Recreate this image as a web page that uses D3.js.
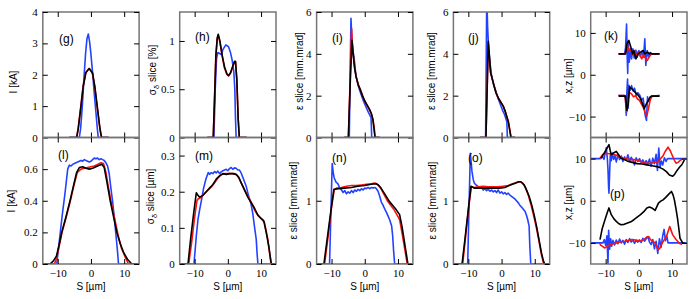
<!DOCTYPE html>
<html>
<head>
<meta charset="utf-8">
<script src="https://cdn.jsdelivr.net/npm/d3@7"></script>
<style>
  body { margin: 0; background: #fff; }
</style>
</head>
<body>
<svg id="chart" width="689" height="299"></svg>
<script>
// ---- data: [S (um), value] ----
var sDomain = [-14.5, 14.5];
var sTicks = [-10, 0, 10];

// (g) current, top
var gBlue = [[-6.5,0],[-3.5,0],[-3.1,0.3],[-2.6,1.0],[-2.1,1.9],[-1.6,2.7],[-1.2,3.15],[-0.8,3.3],[-0.4,3.05],[0,2.65],[0.5,2.05],[1,1.4],[1.5,0.8],[1.9,0.3],[2.2,0],[5.3,0]];
var gRed = [[-6.5,0],[-4.3,0],[-3.9,0.25],[-3.1,0.95],[-2.4,1.6],[-1.6,2.05],[-0.6,2.2],[0.4,2.07],[1.1,1.65],[1.9,0.95],[2.6,0.35],[3.1,0],[5.3,0]];
var gBlack = [[-6.5,0],[-4.3,0],[-3.8,0.3],[-3.0,1.0],[-2.3,1.65],[-1.5,2.08],[-0.5,2.2],[0.5,2.05],[1.2,1.6],[2.0,0.9],[2.7,0.3],[3.2,0],[5.3,0]];

// (h) energy spread
var hBlue = [[-6.2,0],[-4.2,0],[-3.8,0.5],[-3.4,0.82],[-3.0,0.88],[-2.5,0.87],[-2.0,0.86],[-1.5,0.91],[-0.6,0.96],[0.2,0.94],[0.8,0.88],[1.3,0.8],[1.8,0.68],[2.1,0.5],[2.3,0.2],[2.5,0],[5.7,0]];
var hRed = [[-6.2,0],[-4.4,0],[-4.0,0.42],[-3.6,0.86],[-3.2,1.02],[-2.9,1.06],[-2.4,0.99],[-1.7,0.84],[-1,0.72],[-0.3,0.655],[0.2,0.64],[0.8,0.665],[1.5,0.735],[2.0,0.78],[2.3,0.785],[2.7,0.6],[3.1,0.2],[3.45,0],[5.7,0]];
var hBlack = [[-6.2,0],[-4.4,0],[-4.0,0.4],[-3.6,0.85],[-3.2,1.03],[-2.9,1.07],[-2.4,1.0],[-1.7,0.85],[-1,0.73],[-0.3,0.66],[0.2,0.64],[0.8,0.67],[1.5,0.74],[2.0,0.79],[2.3,0.79],[2.7,0.6],[3.1,0.2],[3.45,0],[5.7,0]];

// (i) emittance
var iBlue = [[-6.2,0],[-4.65,0],[-4.4,3.0],[-4.15,5.7],[-3.9,4.8],[-3.5,4.1],[-3.2,3.8],[-2.7,3.0],[-2.0,2.5],[-1.2,2.1],[-0.4,1.75],[0.4,1.45],[1.1,1.2],[1.6,1.05],[1.9,0.95],[2.1,0],[4.5,0]];
var iRed = [[-6.2,0],[-4.9,0],[-4.4,2.8],[-3.95,5.2],[-3.7,4.3],[-3.2,3.6],[-2.6,2.9],[-1.9,2.5],[-1.2,2.25],[-0.4,1.9],[0.4,1.6],[1.2,1.4],[1.9,1.15],[2.5,0.85],[2.9,0.4],[3.1,0],[4.5,0]];
var iBlack = [[-6.2,0],[-4.95,0],[-4.4,2.5],[-3.85,4.65],[-3.5,4.0],[-3.1,3.35],[-2.6,2.9],[-2,2.55],[-1.4,2.3],[-0.6,1.95],[0.1,1.72],[0.9,1.5],[1.6,1.3],[2.1,1.1],[2.4,0.9],[2.8,0.4],[3.1,0],[4.5,0]];

// (j) emittance
var jBlue = [[-6.5,0],[-4.8,0],[-4.6,4],[-4.45,6.8],[-4.2,5.3],[-3.9,4.3],[-3.5,3.6],[-3,2.95],[-2.3,2.5],[-1.6,2.15],[-1,1.85],[-0.3,1.55],[0.3,1.3],[0.9,1.1],[1.4,0.85],[1.6,0.75],[1.75,0],[4.0,0]];
var jRed = [[-6.5,0],[-4.7,0],[-4.3,2.5],[-4.0,4.5],[-3.7,3.8],[-3.3,3.1],[-2.9,2.85],[-2.3,2.5],[-1.6,2.1],[-0.9,1.85],[-0.2,1.7],[0.5,1.5],[1.1,1.25],[1.7,0.95],[2.1,0.75],[2.5,0.35],[2.85,0],[4.05,0]];
var jBlack = [[-6.5,0],[-4.7,0],[-4.3,2.6],[-4.0,4.6],[-3.6,3.8],[-3.3,3.1],[-2.95,2.9],[-2.4,2.55],[-1.7,2.15],[-1,1.9],[-0.3,1.7],[0.5,1.5],[1.1,1.25],[1.6,0.98],[2.0,0.77],[2.4,0.4],[2.85,0],[4.05,0]];

// (k) centroids x (upper) and z (lower)
var kBlueX = [[-6.2,5],[-4.3,5],[-4.0,6.5],[-3.7,12.1],[-3.5,4],[-3.35,0.3],[-3.15,8],[-2.9,3],[-2.5,6.2],[-2.2,3.8],[-1.8,6.2],[-1.4,4.0],[-0.9,5.9],[-0.5,4.2],[0,5.8],[0.5,4.4],[1.0,5.6],[1.4,4.2],[1.8,8.6],[2.1,2.2],[2.5,5.8],[2.9,4.4],[3.4,5.3],[3.9,5],[6.2,5]];
var kBlueZ = [[-6.2,-5],[-4.3,-5],[-4.0,-6],[-3.8,-9.7],[-3.6,-4],[-3.4,-1],[-3.2,-8],[-3.0,-2.5],[-2.6,-3.7],[-2.2,-2.6],[-1.7,-3.9],[-1.3,-3.2],[-0.8,-4.9],[-0.3,-4.3],[0.3,-4.9],[0.8,-6.1],[1.3,-5.6],[1.6,-7.5],[1.9,-9.7],[2.3,-10.9],[2.6,-5.3],[3.0,-6.4],[3.5,-5.5],[3.9,-5.1],[6.2,-5]];
var kRedX = [[-6.2,5],[-4.2,5],[-3.8,5.8],[-3.5,7.2],[-3.2,6.4],[-2.8,5.6],[-2.3,6.1],[-1.8,4.8],[-1.3,5.6],[-0.8,4.5],[-0.3,5.4],[0.3,4.6],[0.9,3.8],[1.4,4.9],[1.9,4.1],[2.5,3.4],[3.1,4.2],[3.6,4.8],[4,5],[6.2,5]];
var kRedZ = [[-6.2,-5],[-4.2,-5],[-3.9,-7],[-3.6,-8.8],[-3.3,-6.1],[-2.8,-4.2],[-2.2,-4.6],[-1.6,-5.3],[-1,-5.0],[-0.4,-5.8],[0.2,-6.1],[0.9,-7.2],[1.4,-7.9],[2.0,-9.3],[2.4,-9.8],[2.9,-8.1],[3.4,-6.1],[3.9,-5.2],[6.2,-5]];
var kBlackX = [[-6.0,5],[-4.0,5],[-3.6,7.4],[-3.0,8.2],[-2.4,6.6],[-1.9,5],[-1.5,5.8],[-0.9,3.8],[-0.2,5],[0.5,5.4],[1.3,5.8],[1.8,5],[2.6,5.4],[3.2,5],[3.6,5.2],[3.9,5],[6.2,5]];
var kBlackZ = [[-6.0,-5.1],[-4.0,-5.1],[-3.6,-8.5],[-3.2,-6.9],[-2.8,-2.9],[-2.2,-3.3],[-1.7,-3.7],[-0.9,-4.4],[-0.2,-4.9],[0.5,-5.7],[1.1,-6.9],[1.6,-8.1],[2.3,-6.9],[2.9,-6.1],[3.4,-5.3],[3.9,-5.1],[6.2,-5.1]];

// (l) current, bottom
var lBlue = [[-14.5,0],[-10.3,0],[-9.5,0.15],[-8.7,0.3],[-7.8,0.45],[-7,0.6],[-6.5,0.625],[-6,0.62],[-5.5,0.63],[-5,0.635],[-4.5,0.64],[-4,0.645],[-3.5,0.65],[-3,0.655],[-2.5,0.65],[-2,0.66],[-1.5,0.655],[-1,0.65],[-0.5,0.645],[0,0.65],[0.5,0.66],[1,0.67],[1.5,0.665],[2,0.67],[2.5,0.66],[3,0.665],[3.5,0.66],[4,0.655],[4.5,0.64],[5,0.62],[5.5,0.57],[6,0.48],[6.5,0.4],[7,0.3],[7.5,0.19],[8,0.08],[8.3,0],[14.5,0]];
var lRed = [[-14.5,0],[-11,0],[-10.3,0.04],[-9.5,0.12],[-8.7,0.2],[-7.4,0.3],[-6.2,0.4],[-5.1,0.5],[-4.1,0.58],[-3,0.6],[-2,0.605],[-1,0.61],[0,0.615],[1,0.62],[2,0.63],[3,0.64],[3.8,0.635],[4.5,0.58],[5.3,0.48],[6.2,0.38],[7.2,0.28],[8.2,0.18],[9.2,0.1],[10.2,0.05],[11.3,0],[14.5,0]];
var lBlack = [[-14.5,0],[-12.3,0],[-11.3,0.02],[-10.4,0.05],[-9.6,0.12],[-8.8,0.2],[-7.5,0.3],[-6.3,0.4],[-5.2,0.5],[-4.3,0.58],[-3.5,0.61],[-2.5,0.615],[-1.5,0.605],[-0.5,0.6],[0.5,0.605],[1.5,0.615],[2.5,0.625],[3.3,0.63],[4,0.61],[4.8,0.52],[5.8,0.4],[6.8,0.3],[7.8,0.2],[8.8,0.13],[9.9,0.07],[11,0.03],[12.3,0],[14.5,0]];

// (m) energy spread, bottom
var mBlue = [[-14.5,0],[-10.2,0],[-9.5,0.077],[-9.0,0.123],[-8.5,0.15],[-7.9,0.179],[-7.3,0.21],[-6.6,0.235],[-5.9,0.253],[-5.5,0.248],[-5,0.253],[-4.5,0.25],[-4,0.256],[-3.5,0.252],[-3,0.257],[-2.5,0.25],[-2,0.255],[-1.5,0.258],[-1,0.26],[-0.5,0.262],[0,0.258],[0.5,0.264],[1,0.267],[1.5,0.262],[2,0.266],[2.5,0.265],[3,0.26],[3.5,0.26],[4,0.252],[4.7,0.235],[5.5,0.216],[6.2,0.19],[7,0.165],[7.5,0.14],[8,0.105],[8.55,0.068],[8.8,0.03],[9.05,0],[14.5,0]];
var mRed = [[-14.5,0],[-11.8,0],[-10.9,0.06],[-10,0.13],[-9.3,0.175],[-9,0.18],[-8.5,0.182],[-8,0.185],[-7.5,0.19],[-7,0.195],[-6.5,0.2],[-6,0.205],[-5,0.213],[-4,0.225],[-3,0.238],[-2,0.247],[-1,0.25],[0,0.25],[1,0.25],[2,0.25],[2.8,0.245],[3.5,0.234],[4.5,0.215],[5.5,0.197],[6.3,0.183],[7,0.172],[8,0.15],[9,0.135],[10,0.126],[11,0.115],[12,0.07],[13,0],[14.5,0]];
var mBlack = [[-14.5,0],[-12,0],[-11.2,0.07],[-10.3,0.14],[-9.5,0.197],[-9,0.19],[-8.5,0.185],[-7.5,0.19],[-6.5,0.2],[-5.5,0.21],[-4.5,0.22],[-3.5,0.235],[-2.5,0.244],[-1.5,0.25],[-0.5,0.248],[0.5,0.25],[1.5,0.25],[2.5,0.248],[3.3,0.24],[4,0.225],[5,0.205],[6,0.185],[7,0.17],[8,0.155],[9,0.136],[10,0.126],[10.8,0.12],[11.5,0.09],[12.3,0.05],[13.1,0],[14.5,0]];

// (n) emittance, bottom
var nBlue = [[-14.5,0],[-10.6,0],[-10.1,1.0],[-9.8,1.59],[-9.5,1.45],[-9.2,1.36],[-8.6,1.29],[-8.1,1.27],[-7.5,1.2],[-7,1.17],[-6.5,1.13],[-6,1.16],[-5.5,1.11],[-5,1.14],[-4.5,1.12],[-4,1.16],[-3.5,1.13],[-3,1.17],[-2.5,1.15],[-2,1.18],[-1.5,1.16],[-1,1.19],[-0.5,1.17],[0,1.2],[0.5,1.19],[1,1.21],[1.5,1.19],[2,1.21],[2.5,1.2],[3,1.21],[3.5,1.19],[4,1.15],[4.5,1.07],[5,0.98],[5.5,0.93],[6,0.87],[6.5,0.82],[7,0.76],[7.5,0.7],[8.1,0.6],[8.4,0.45],[8.7,0.2],[9,0],[14.5,0]];
var nRed = [[-14.5,0],[-12.1,0],[-11,0.45],[-10,0.9],[-9.2,1.17],[-8.5,1.2],[-7,1.21],[-5.5,1.23],[-4,1.24],[-2.5,1.24],[-1,1.25],[0.5,1.26],[2,1.27],[3,1.28],[3.8,1.26],[4.8,1.2],[5.8,1.1],[6.8,1.0],[7.8,0.93],[8.8,0.86],[9.8,0.77],[10.5,0.7],[11.2,0.5],[12,0.25],[12.8,0],[14.5,0]];
var nBlack = [[-14.5,0],[-12.3,0],[-11.3,0.4],[-10.3,0.8],[-9.3,1.18],[-8,1.19],[-6.1,1.2],[-4,1.21],[-2.1,1.23],[0,1.24],[1.9,1.26],[3.4,1.27],[4.1,1.25],[4.9,1.2],[6.1,1.1],[7.4,0.99],[8.5,0.92],[9.45,0.86],[10.5,0.78],[11.2,0.6],[11.8,0.4],[12.4,0.2],[13,0],[14.5,0]];

// (o) emittance, bottom
var oBlue = [[-14.5,0],[-10.2,0],[-9.8,0.9],[-9.4,1.75],[-9.1,1.58],[-8.9,1.46],[-8.5,1.33],[-8.2,1.28],[-7.7,1.25],[-7.2,1.23],[-6.5,1.2],[-6,1.21],[-5.5,1.17],[-5,1.19],[-4.5,1.16],[-4,1.18],[-3.5,1.15],[-3,1.17],[-2.5,1.14],[-2,1.16],[-1.5,1.13],[-1,1.17],[-0.5,1.12],[0,1.14],[0.5,1.11],[1,1.13],[1.5,1.1],[2,1.12],[2.5,1.09],[3,1.07],[3.5,1.05],[4,1.03],[4.5,1.0],[5,0.97],[5.5,0.93],[6,0.9],[6.5,0.87],[7.1,0.83],[7.5,0.77],[7.8,0.72],[8.3,0.6],[8.5,0.3],[8.8,0],[14.5,0]];
var oRed = [[-14.5,0],[-11.7,0],[-10.8,0.45],[-9.9,0.9],[-9.1,1.22],[-8.2,1.21],[-7,1.22],[-5.5,1.23],[-4,1.22],[-2.5,1.22],[-1,1.22],[0.5,1.23],[2,1.24],[3.3,1.27],[4.5,1.29],[5.6,1.3],[6.4,1.28],[7.2,1.21],[8,1.1],[8.8,0.95],[9.6,0.78],[10.4,0.6],[11.2,0.38],[12,0.15],[12.7,0],[14.5,0]];
var oBlack = [[-14.5,0],[-11.9,0],[-11,0.4],[-10.1,0.82],[-9.2,1.23],[-8.2,1.2],[-6.5,1.2],[-4.7,1.2],[-2.7,1.2],[-0.7,1.2],[1,1.21],[2.3,1.24],[3.3,1.26],[4.3,1.28],[5.2,1.3],[5.8,1.3],[6.8,1.25],[7.6,1.16],[8.3,1.07],[9.1,0.93],[9.8,0.78],[10.6,0.58],[11.3,0.38],[12,0.18],[12.6,0.05],[13,0],[14.5,0]];

// (p) centroids, bottom
var pBlueX = [[-14.5,10],[-11.5,10],[-11.0,10.5],[-10.5,9.8],[-10.1,11.4],[-9.8,12.6],[-9.5,10.1],[-9.3,7.5],[-9.1,3],[-9.0,1.8],[-8.8,6.5],[-8.6,10.8],[-8.3,9.5],[-8.0,11.3],[-7.6,9.8],[-7.2,10.7],[-6.8,9.2],[-6.3,10.9],[-5.8,9.8],[-5.3,10.6],[-4.8,9.3],[-4.3,10.4],[-3.8,9.6],[-3.3,10.9],[-2.8,9.4],[-2.3,10.3],[-1.8,9.7],[-1.3,8.5],[-0.8,10.2],[-0.3,9.3],[0.2,10],[0.7,9.1],[1.2,9.7],[1.7,8.8],[2.2,9.5],[2.7,8.7],[3.2,9.9],[3.7,8.2],[4.2,10.1],[4.7,8.8],[5.2,11],[5.6,7.2],[6,12.5],[6.4,8.0],[6.8,9.4],[7.2,8.5],[7.7,10.2],[8.2,9.3],[8.6,10],[14.5,10]];
var pBlueZ = [[-14.5,-10],[-10.8,-10],[-10.4,-9.2],[-10,-10.6],[-9.6,-8.3],[-9.3,-15],[-9.1,-7],[-8.8,-11.5],[-8.5,-9],[-8.2,-10.8],[-7.8,-9.4],[-7.3,-10.5],[-6.8,-9.3],[-6.3,-10.2],[-5.8,-9.1],[-5.3,-10],[-4.8,-9.4],[-4.3,-10.3],[-3.8,-9.2],[-3.3,-9.9],[-2.8,-9.0],[-2.3,-9.8],[-1.8,-9.3],[-1.3,-10.1],[-0.8,-9.4],[-0.3,-9.8],[0.2,-9.3],[0.7,-9.9],[1.2,-8.9],[1.7,-9.6],[2.2,-9.0],[2.7,-8.5],[3.2,-9.8],[3.7,-10.4],[4.2,-9.2],[4.7,-11.4],[5.2,-9.6],[5.7,-12.5],[6.2,-9.0],[6.7,-11.0],[7.2,-8.2],[7.6,-6.8],[8.0,-9.5],[8.4,-8.3],[8.8,-10],[14.5,-10]];
var pRedX = [[-11.7,10.1],[-10.8,11.0],[-10.2,11.3],[-9.5,11.2],[-8.3,11.1],[-7.3,10.9],[-6.4,10.7],[-5.5,10.4],[-4.5,10.0],[-3.4,9.9],[-2.4,9.7],[-1.5,9.8],[-0.5,9.6],[0.5,9.3],[1.5,9.0],[2.4,8.9],[3.4,8.9],[4.5,9.0],[5.85,9.3],[6.6,10],[7.3,10.7],[8.0,11.8],[8.8,12.7],[9.5,11.8],[10.2,10.5],[10.7,9.6],[11.2,8.9],[11.8,9.1],[12.5,9.6],[13.2,10.0]];
var pRedZ = [[-11.9,-10],[-11.4,-10.6],[-10.2,-11.2],[-9.5,-10.8],[-8.8,-10.4],[-7.5,-10.2],[-6.8,-10],[-5.8,-9.8],[-4.3,-9.6],[-3.0,-9.4],[-2.0,-9.2],[-0.5,-9.4],[0.5,-9.6],[1.5,-9.2],[2.4,-8.6],[3.0,-8.5],[3.5,-9.2],[4.9,-10],[5.85,-11.6],[6.3,-11.3],[6.8,-10.4],[7.5,-9.4],[8.3,-8.5],[8.8,-7.3],[9.3,-6.1],[9.8,-7.2],[10.2,-8.1],[11.2,-9.2],[12.4,-10.2],[13.0,-10.3]];
var pBlackX = [[-11.4,10.1],[-10.5,11.2],[-9.6,12.4],[-9.0,13.3],[-8.6,11.8],[-8.3,10.9],[-7.5,11.4],[-6.8,11.7],[-6.1,10.9],[-5.4,10.1],[-4.4,9.8],[-3.4,9.4],[-2,9.1],[-0.5,8.8],[1,8.7],[2.4,8.5],[4,8.3],[5.4,8.1],[6.5,7.8],[7.3,7.5],[8.3,6.9],[9.2,6.1],[10.2,5.8],[10.8,6.3],[11.5,7.2],[12.3,8.0],[13.0,8.6],[13.7,9.7]];
var pBlackZ = [[-11.7,-9.2],[-11.0,-6.5],[-10.2,-4.5],[-9.5,-2.8],[-9.0,-1.7],[-8.3,-3.3],[-7.5,-4.3],[-6.8,-4.9],[-6.1,-5.4],[-5.4,-5.7],[-4.4,-5.6],[-3.4,-5.3],[-2.4,-5.0],[-1.5,-4.5],[-0.5,-3.9],[0.5,-3.3],[1.5,-2.6],[2.4,-1.7],[3.2,-1.5],[3.9,-1.7],[4.9,-2.3],[5.9,-0.55],[6.6,-0.1],[7.3,0.2],[8.1,0.8],[8.8,1.4],[9.8,2.2],[10.3,1.4],[10.7,0.2],[11.2,-2],[11.7,-4.5],[12.1,-7],[12.4,-8.9],[13.2,-10],[13.7,-10.1]];

// ---- layout ----
var svg = d3.select("#chart");
var panelW = 96.3;
var colLeft = [42.8, 179.7, 316.6, 453.4, 590.7];
var rowY = [[12, 137.5], [137.5, 264]];
var blue = "#2342ff", red = "#ff1010", black = "#000";
var serif = "Liberation Serif";
var sans = "Liberation Sans";

var fmt = function (d) { return d < 0 ? "\u2212" + Math.abs(d) : String(d); };

var panels = [
  {col:0,row:0,yDom:[0,4],yTicks:[0,1,2,3,4],lab:["I [kA]"],lx:17,ly:82,tag:"(g)",tx:59,ty:42.5,
   series:[[gBlue,blue],[gRed,red],[gBlack,black]]},
  {col:1,row:0,yDom:[0,1.3],yTicks:[0,0.5,1],lab:["σ","δ"," slice [%]"],lx:156,ly:70,tag:"(h)",tx:195,ty:41,
   series:[[hBlue,blue],[hRed,red],[hBlack,black]]},
  {col:2,row:0,yDom:[0,6],yTicks:[0,2,4,6],lab:["ε slice [mm.mrad]"],lx:302.5,ly:71,tag:"(i)",tx:332,ty:42,
   series:[[iBlue,blue],[iRed,red],[iBlack,black]]},
  {col:3,row:0,yDom:[0,6],yTicks:[0,2,4,6],lab:["ε slice [mm.mrad]"],lx:435,ly:71,tag:"(j)",tx:468,ty:42,
   series:[[jBlue,blue],[jRed,red],[jBlack,black]]},
  {col:4,row:0,yDom:[-15,15],yTicks:[-10,0,10],lab:["x,z [µm]"],lx:571.5,ly:76,tag:"(k)",tx:604,ty:40,
   series:[[kBlueX,blue],[kBlueZ,blue],[kRedX,red],[kRedZ,red],[kBlackX,black],[kBlackZ,black]]},
  {col:0,row:1,yDom:[0,0.8],yTicks:[0,0.2,0.4,0.6],lab:["I [kA]"],lx:15,ly:201,tag:"(l)",tx:58,ty:159,
   series:[[lBlue,blue],[lRed,red],[lBlack,black]]},
  {col:1,row:1,yDom:[0,0.35],yTicks:[0,0.1,0.2,0.3],lab:["σ","δ"," slice [µm]"],lx:154,ly:196.5,tag:"(m)",tx:195,ty:160,
   series:[[mBlue,blue],[mRed,red],[mBlack,black]]},
  {col:2,row:1,yDom:[0,2],yTicks:[0,1],lab:["ε slice [mm.mrad]"],lx:297,ly:200.5,tag:"(n)",tx:332,ty:162,
   series:[[nBlue,blue],[nRed,red],[nBlack,black]]},
  {col:3,row:1,yDom:[0,2],yTicks:[0,1],lab:["ε slice [mm.mrad]"],lx:435.5,ly:200.5,tag:"(o)",tx:468,ty:162,
   series:[[oBlue,blue],[oRed,red],[oBlack,black]]},
  {col:4,row:1,yDom:[-15,15],yTicks:[-10,0,10],lab:["x,z [µm]"],lx:571.5,ly:202.5,tag:"(p)",tx:610,ty:198,
   series:[[pBlueX,blue],[pBlueZ,blue],[pRedX,red],[pRedZ,red],[pBlackX,black],[pBlackZ,black]]}
];

function styleAxis(sel) {
  sel.select(".domain").remove();
  sel.selectAll(".tick line").attr("stroke", "#000").attr("stroke-width", 1);
  sel.attr("font-family", null).attr("font-size", null);
  sel.selectAll(".tick text").attr("fill", "#000")
    .style("font-family", serif).style("font-size", "11px");
}

panels.forEach(function (p, i) {
  var left = colLeft[p.col], right = left + panelW;
  var top = rowY[p.row][0], bot = rowY[p.row][1];
  var x = d3.scaleLinear().domain(sDomain).range([left, right]);
  var y = d3.scaleLinear().domain(p.yDom).range([bot, top]);
  var g = svg.append("g");

  g.append("clipPath").attr("id", "clip" + i)
    .append("rect").attr("x", left).attr("y", top).attr("width", panelW).attr("height", bot - top);

  var line = d3.line().x(function (d) { return x(d[0]); }).y(function (d) { return y(d[1]); });

  g.append("g").attr("clip-path", "url(#clip" + i + ")")
    .selectAll("path").data(p.series).enter().append("path")
    .attr("d", function (d) { return line(d[0]); })
    .attr("fill", "none")
    .attr("stroke", function (d) { return d[1]; })
    .attr("stroke-width", 1.6)
    .attr("stroke-linejoin", "round");

  g.append("rect")
    .attr("x", left).attr("y", top).attr("width", panelW).attr("height", bot - top)
    .attr("fill", "none").attr("stroke", "#757575").attr("stroke-width", 1.5);

  g.append("g").attr("transform", "translate(0," + bot + ")")
    .call(d3.axisBottom(x).tickValues(sTicks).tickSize(-5).tickSizeOuter(0).tickPadding(5)
      .tickFormat(p.row == 1 ? fmt : ""))
    .call(styleAxis);
  g.append("g").attr("transform", "translate(0," + top + ")")
    .call(d3.axisTop(x).tickValues(sTicks).tickSize(-5).tickSizeOuter(0).tickFormat(""))
    .call(styleAxis);
  g.append("g").attr("transform", "translate(" + left + ",0)")
    .call(d3.axisLeft(y).tickValues(p.yTicks).tickSize(-5).tickSizeOuter(0).tickPadding(5).tickFormat(fmt))
    .call(styleAxis);
  g.append("g").attr("transform", "translate(" + right + ",0)")
    .call(d3.axisRight(y).tickValues(p.yTicks).tickSize(-5).tickSizeOuter(0).tickFormat(""))
    .call(styleAxis);

  // y label
  var yl = g.append("text")
    .attr("transform", "translate(" + p.lx + "," + p.ly + ") rotate(-90)")
    .attr("text-anchor", "middle").style("font-family", sans).style("font-size", "10px");
  if (p.lab.length == 1) {
    yl.text(p.lab[0]);
  } else {
    yl.append("tspan").text(p.lab[0]);
    yl.append("tspan").attr("dy", 3).style("font-size", "7.5px").text(p.lab[1]);
    yl.append("tspan").attr("dy", -3).text(p.lab[2]);
  }

  // x label
  if (p.row == 1) {
    g.append("text").attr("x", (left + right) / 2).attr("y", 290)
      .attr("text-anchor", "middle").style("font-family", sans).style("font-size", "10px")
      .text("S [µm]");
  }

  g.append("text").attr("x", p.tx).attr("y", p.ty)
    .style("font-family", sans).style("font-size", "12px").text(p.tag);
});
</script>
</body>
</html>
